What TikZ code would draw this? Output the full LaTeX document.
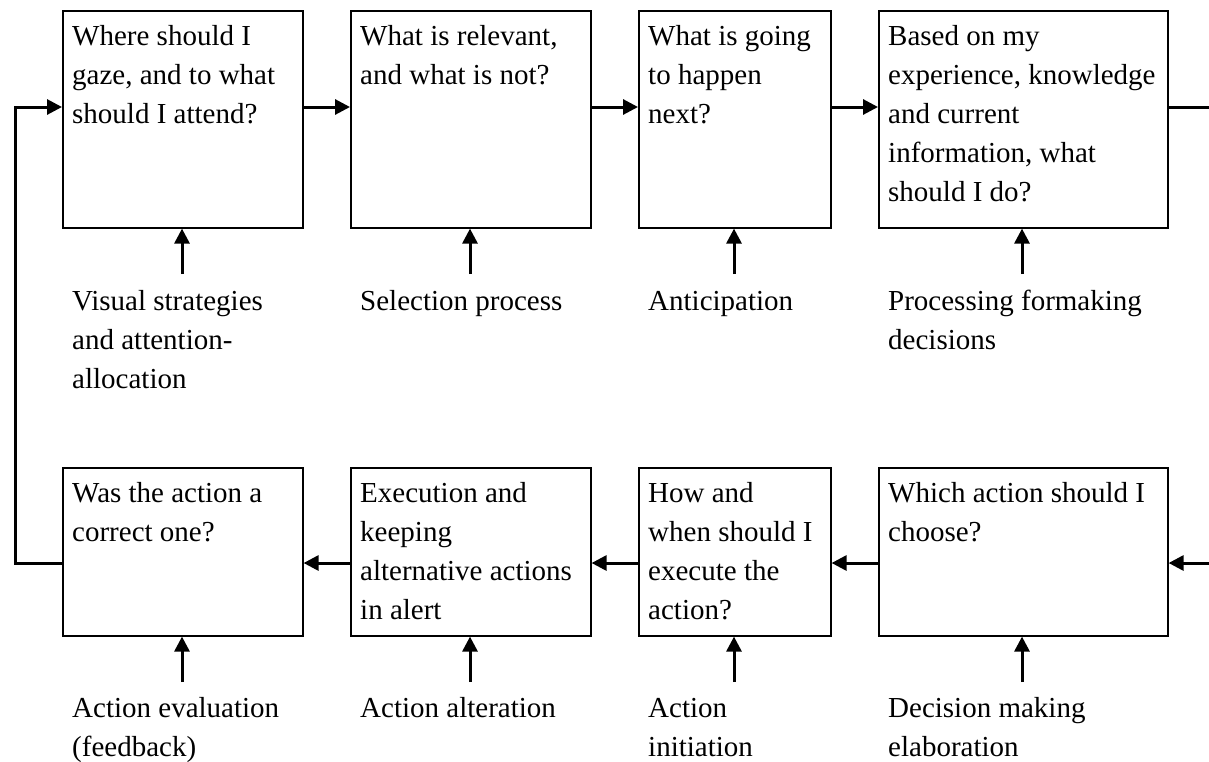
\documentclass[tikz,border=0pt]{standalone}
\usepackage{fontspec}
\setmainfont{Liberation Serif}
\usetikzlibrary{arrows.meta}
\begin{document}
\begin{tikzpicture}[x=1pt,y=-1pt,
  stepbox/.style={draw, line width=1.6pt, inner sep=0pt, anchor=north west},
  toprow/.style={stepbox, minimum height=217pt},
  botrow/.style={stepbox, minimum height=168pt},
  txt/.style={anchor=north west, inner sep=0pt, align=left, font=\fontsize{29}{39}\selectfont},
  flow/.style={line width=3pt, -{Triangle[length=15pt,width=15pt]}},
  plainline/.style={line width=3pt}]
\useasboundingbox (0,0) rectangle (1209,761);

% top row boxes
\node[toprow, minimum width=240pt] (b1) at (62,10) {};
\node[toprow, minimum width=240pt] (b2) at (350,10) {};
\node[toprow, minimum width=192pt] (b3) at (638,10) {};
\node[toprow, minimum width=289pt] (b4) at (878,10) {};
% bottom row boxes
\node[botrow, minimum width=240pt] (b5) at (62,467) {};
\node[botrow, minimum width=240pt] (b6) at (350,467) {};
\node[botrow, minimum width=192pt] (b7) at (638,467) {};
\node[botrow, minimum width=289pt] (b8) at (878,467) {};

% box texts
\node[txt] (t1) at (72,17.7) {\strut Where should I\\gaze, and to what\\should I attend?};
\node[txt] (t2) at (360,17.7) {\strut What is relevant,\\and what is not?};
\node[txt] (t3) at (648,17.7) {\strut What is going\\to happen\\next?};
\node[txt] (t4) at (888,17.7) {\strut Based on my\\experience, knowledge\\and current\\information, what\\should I do?};
\node[txt] (t5) at (72,474.7) {\strut Was the action a\\correct one?};
\node[txt] (t6) at (360,474.7) {\strut Execution and\\keeping\\alternative actions\\in alert};
\node[txt] (t7) at (648,474.7) {\strut How and\\when should I\\execute the\\action?};
\node[txt] (t8) at (888,474.7) {\strut Which action should I\\choose?};

% labels
\node[txt] (l1) at (72,282.7) {\strut Visual strategies\\and attention-\\allocation};
\node[txt] (l2) at (360,282.7) {\strut Selection process};
\node[txt] (l3) at (648,282.7) {\strut Anticipation};
\node[txt] (l4) at (888,282.7) {\strut Processing formaking\\decisions};
\node[txt] (l5) at (72,689.7) {\strut Action evaluation\\(feedback)};
\node[txt] (l6) at (360,689.7) {\strut Action alteration};
\node[txt] (l7) at (648,689.7) {\strut Action\\initiation};
\node[txt] (l8) at (888,689.7) {\strut Decision making\\elaboration};

% helper coordinates
\coordinate (rowA) at (0,107);
\coordinate (rowB) at (0,563);
\coordinate (edgeA) at (1209,107);
\coordinate (edgeB) at (1209,563);
\coordinate (loopB) at (15,563);
\coordinate (loopA) at (15,107);
\coordinate (u1) at (182,274);
\coordinate (u2) at (470,274);
\coordinate (u3) at (734,274);
\coordinate (u4) at (1022,274);
\coordinate (u5) at (182,682);
\coordinate (u6) at (470,682);
\coordinate (u7) at (734,682);
\coordinate (u8) at (1022,682);

% top row flow
\draw[flow] (b1.east |- rowA) -- (b2.west |- rowA);
\draw[flow] (b2.east |- rowA) -- (b3.west |- rowA);
\draw[flow] (b3.east |- rowA) -- (b4.west |- rowA);
\draw[plainline] (b4.east |- rowA) -- (edgeA);
% bottom row flow
\draw[flow] (edgeB) -- (b8.east |- rowB);
\draw[flow] (b8.west |- rowB) -- (b7.east |- rowB);
\draw[flow] (b7.west |- rowB) -- (b6.east |- rowB);
\draw[flow] (b6.west |- rowB) -- (b5.east |- rowB);
% loop back
\draw[flow] (b5.west |- rowB) -- (loopB) -- (loopA) -- (b1.west |- rowA);

% upward arrows
\draw[flow] (u1) -- (u1 |- b1.south);
\draw[flow] (u2) -- (u2 |- b2.south);
\draw[flow] (u3) -- (u3 |- b3.south);
\draw[flow] (u4) -- (u4 |- b4.south);
\draw[flow] (u5) -- (u5 |- b5.south);
\draw[flow] (u6) -- (u6 |- b6.south);
\draw[flow] (u7) -- (u7 |- b7.south);
\draw[flow] (u8) -- (u8 |- b8.south);
\end{tikzpicture}
\end{document}
